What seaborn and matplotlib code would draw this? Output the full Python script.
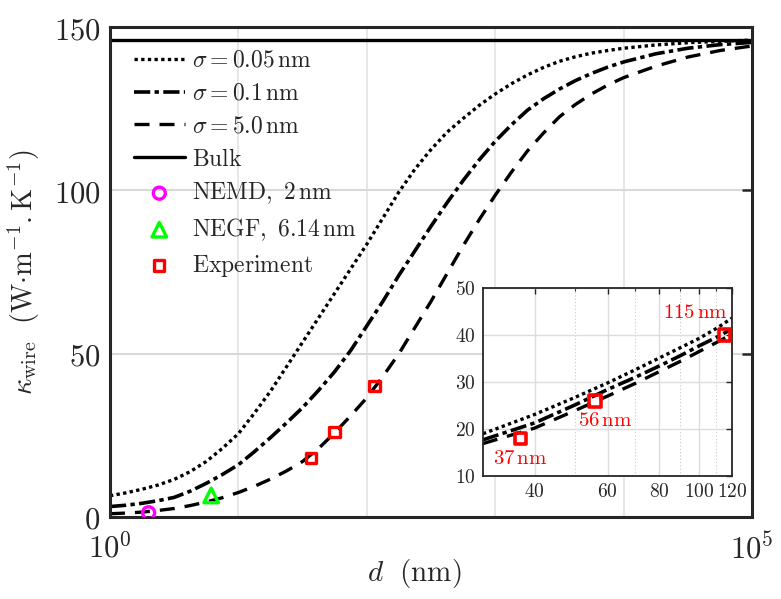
import numpy as np
import pandas as pd
import seaborn as sns
import matplotlib.pyplot as plt
from matplotlib.ticker import FixedLocator, FixedFormatter, NullFormatter

sns.set_style("white")
plt.rcParams['mathtext.fontset'] = 'cm'
plt.rcParams['font.family'] = ['DejaVu Serif']

# main panel: log10 of wire diameter (nm) and conductivity
logd_main = [0, 0.125, 0.25, 0.375, 0.5, 0.625, 0.75, 0.875, 1.0, 1.125, 1.25,
             1.375, 1.5, 1.625, 1.75, 1.875, 2.0, 2.125, 2.25, 2.375, 2.5,
             2.625, 2.75, 2.875, 3.0, 3.125, 3.25, 3.375, 3.5, 3.625, 3.75,
             3.875, 4.0, 4.25, 4.5, 4.75, 5.0]
k_s005 = [6.5, 7.4, 8.5, 9.8, 11.5, 13.9, 17, 21, 25.5, 31.8, 38.5,
          46, 53.5, 61, 68.5, 76, 83.5, 91.5, 99.5, 106.5, 112.5,
          117.8, 122, 126, 129.5, 132.6, 135.3, 137.6, 139.5, 140.9, 142,
          142.8, 143.5, 144.5, 145.2, 145.6, 146]
k_s01 = [3.2, 3.6, 4.2, 5.0, 6.0, 7.9, 10.3, 13.0, 16, 20, 24.3,
         28.8, 33.5, 38.8, 44.5, 51, 58.5, 66, 74, 81.5, 89,
         96.2, 103, 109.3, 115, 120, 124.5, 128, 131, 133.6, 135.8,
         137.7, 139.3, 141.8, 143.5, 144.6, 145.3]
k_s5 = [1.0, 1.2, 1.5, 2.0, 2.6, 3.5, 4.6, 5.9, 7.5, 9.4, 11.6,
        14.1, 17, 21, 25.8, 31, 36.5, 43, 50, 58, 66,
        74.5, 83, 91, 98.5, 105.5, 112, 117.5, 122.5, 126.3, 129.5,
        132.2, 134.5, 138, 140.8, 142.8, 144.2]
k_bulk = 146

d_nemd, k_nemd = [2.0], [1.3]
d_negf, k_negf = [6.14], [6.6]
d_exp = [37, 56, 115]
k_exp = [18, 26, 40]
labels_exp = [r'$37\,\mathrm{nm}$', r'$56\,\mathrm{nm}$', r'$115\,\mathrm{nm}$']

# inset curves
d_ins = [30, 40, 50, 60, 70, 80, 90, 100, 110, 120]
ki_s005 = [19.0, 23.1, 26.7, 29.8, 32.6, 35.1, 37.3, 39.3, 41.4, 43.6]
ki_s01 = [17.7, 21.3, 25.1, 28.4, 31.0, 33.4, 35.6, 37.7, 39.5, 41.3]
ki_s5 = [16.9, 20.2, 23.9, 27.0, 29.7, 32.2, 34.4, 36.5, 38.4, 40.2]

d_main = 10 ** np.array(logd_main)

dot = (0, (1, 1))
dashdot = (0, (4.5, 1.2, 1.2, 1.2))
dash = (0, (4.5, 3))

fig = plt.figure(figsize=(7.81, 5.99), dpi=100)
ax = fig.add_axes([0.1408, 0.1369, 0.8221, 0.818])

sns.lineplot(x=d_main, y=k_s005, ax=ax, color='k', lw=2.4, linestyle=dot,
             label=r'$\sigma = 0.05\,\mathrm{nm}$')
sns.lineplot(x=d_main, y=k_s01, ax=ax, color='k', lw=2.6, linestyle=dashdot,
             label=r'$\sigma = 0.1\,\mathrm{nm}$')
sns.lineplot(x=d_main, y=k_s5, ax=ax, color='k', lw=2.4, linestyle=dash,
             label=r'$\sigma = 5.0\,\mathrm{nm}$')
ax.axhline(k_bulk, color='k', lw=2.4, label=r'$\mathrm{Bulk}$')

sns.scatterplot(x=d_nemd, y=k_nemd, ax=ax, marker='o', s=75, facecolors='none',
                edgecolors='#ff00ff', linewidths=2.4, zorder=5,
                label=r'$\mathrm{NEMD,\ 2\,nm}$')
sns.scatterplot(x=d_negf, y=k_negf, ax=ax, marker='^', s=110, facecolors='none',
                edgecolors='#00ff00', linewidths=2.4, zorder=5,
                label=r'$\mathrm{NEGF,\ 6.14\,nm}$')
sns.scatterplot(x=d_exp, y=k_exp, ax=ax, marker='s', s=55, facecolors='none',
                edgecolors='#ff0000', linewidths=2.4, zorder=5,
                label=r'$\mathrm{Experiment}$')

ax.set_xscale('log')
ax.set_xlim(1, 1e5)
ax.set_ylim(0, 150)
ax.xaxis.set_major_locator(FixedLocator([1, 1e5]))
ax.xaxis.set_major_formatter(FixedFormatter([r'$10^0$', r'$10^5$']))
ax.xaxis.set_minor_locator(FixedLocator([10, 100, 1000, 10000]))
ax.xaxis.set_minor_formatter(NullFormatter())
ax.yaxis.set_major_locator(FixedLocator([0, 50, 100, 150]))
ax.yaxis.set_major_formatter(FixedFormatter(['$0$', '$50$', '$100$', '$150$']))
ax.grid(True, which='major', axis='y', color='#d9d9d9', lw=1.5)
ax.grid(True, which='minor', axis='x', color='#e3e3e3', lw=1.2)
ax.tick_params(which='major', direction='in', length=7, width=1.8,
               top=True, right=True, labelsize=22, colors='#262626', pad=7)
ax.tick_params(axis='x', which='major', pad=12)
ax.tick_params(which='minor', direction='in', length=0)
for side in ax.spines.values():
    side.set_linewidth(2.2)
    side.set_color('#262626')
ax.set_xlabel(r'$d\ \ (\mathrm{nm})$', fontsize=21)
ax.xaxis.set_label_coords(0.474, -0.082)
ax.set_ylabel(r'$\kappa_{\mathrm{wire}}\ \ (\mathrm{W{\cdot}m^{-1}.K^{-1}})$',
              fontsize=20.5, labelpad=8)
ax.legend(loc='upper left', frameon=False, fontsize=17, handlelength=2.15,
          labelspacing=0.42, handletextpad=0.3, borderaxespad=0.0,
          borderpad=0.2, bbox_to_anchor=(0.03, 0.965))

# inset
axi = fig.add_axes([0.6184, 0.2053, 0.3189, 0.3139])
sns.lineplot(x=d_ins, y=ki_s005, ax=axi, color='k', lw=2.4, linestyle=dot)
sns.lineplot(x=d_ins, y=ki_s01, ax=axi, color='k', lw=2.6, linestyle=dashdot)
sns.lineplot(x=d_ins, y=ki_s5, ax=axi, color='k', lw=2.4, linestyle=dash)
sns.scatterplot(x=d_exp, y=k_exp, ax=axi, marker='s', s=70, facecolors='none',
                edgecolors='#ff0000', linewidths=2.6, zorder=5)
axi.set_xscale('log')
axi.set_xlim(30, 120)
axi.set_ylim(10, 50)
axi.xaxis.set_major_locator(FixedLocator([40, 60, 80, 100, 120]))
axi.xaxis.set_major_formatter(FixedFormatter(['$40$', '$60$', '$80$', '$100$', '$120$']))
axi.xaxis.set_minor_locator(FixedLocator([50, 70, 90, 110]))
axi.xaxis.set_minor_formatter(NullFormatter())
axi.yaxis.set_major_locator(FixedLocator([10, 20, 30, 40, 50]))
axi.yaxis.set_major_formatter(FixedFormatter(['$10$', '$20$', '$30$', '$40$', '$50$']))
axi.grid(True, which='major', color='#dcdcdc', lw=1.0)
axi.grid(True, which='minor', axis='x', color='#c8c8c8', lw=0.8, linestyle=(0, (1, 2)))
axi.tick_params(which='major', direction='in', length=4, width=1.0,
                top=True, right=True, labelsize=14, colors='#262626', pad=5)
axi.tick_params(which='minor', direction='in', length=2.5, width=0.8, top=True)
for side in axi.spines.values():
    side.set_linewidth(1.3)
    side.set_color('#262626')

offsets = [(0, -14.5), (7, -14.5), (-21, 16.5)]
for dx, kx, lab, off in zip(d_exp, k_exp, labels_exp, offsets):
    axi.annotate(lab, (dx, kx), xytext=off, textcoords='offset points',
                 ha='center', va='center', color='#ff0000', fontsize=15)

fig.savefig('out.png', dpi=100)
